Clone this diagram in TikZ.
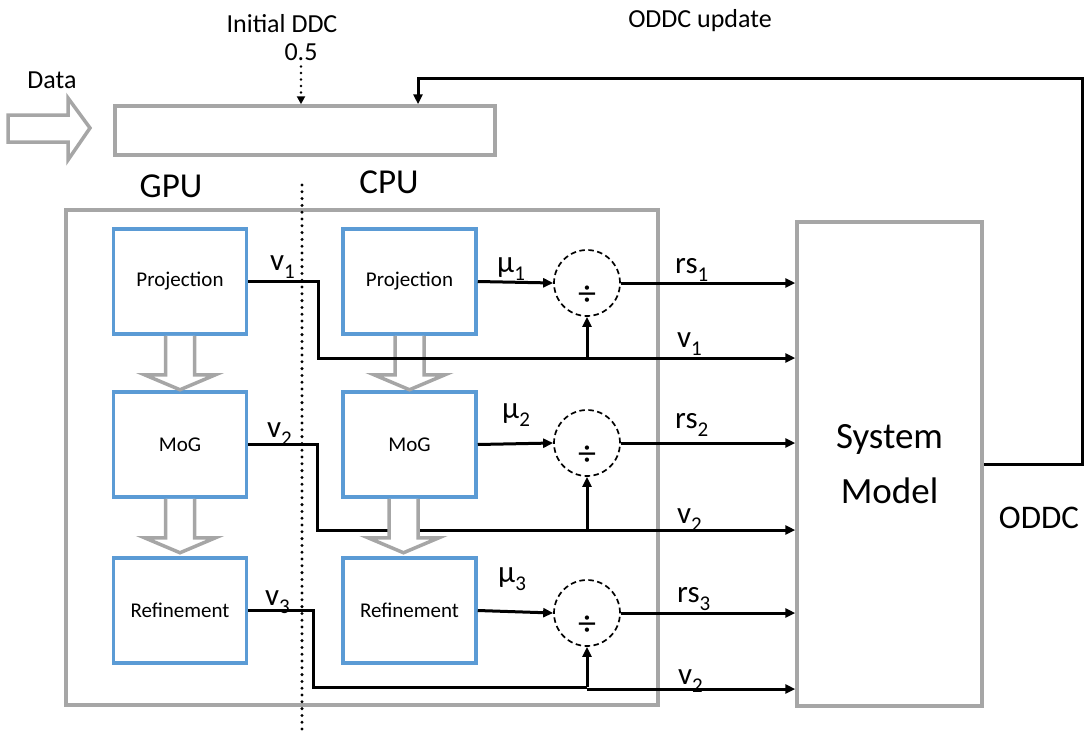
\documentclass[tikz,border=0pt]{standalone}
\usepackage{fontspec}
\setmainfont{Carlito}
\usetikzlibrary{arrows.meta,calc}
\definecolor{boxgray}{RGB}{166,166,166}
\definecolor{boxblue}{RGB}{91,155,213}
\newcommand\lsub[1]{\raisebox{-0.28em}{\fontsize{21}{21}\selectfont #1}}
\begin{document}
\begin{tikzpicture}[x=1pt,y=-1pt,
  gbox/.style={draw=boxgray, line width=3.5pt, inner sep=0pt},
  bbox/.style={draw=boxblue, line width=3.5pt, minimum width=133pt, minimum height=105pt, inner sep=0pt, font=\fontsize{21}{25}\selectfont},
  wire/.style={line width=3pt},
  conn/.style={line width=3pt, -{Triangle[length=10pt,width=9pt]}},
  divc/.style={circle, draw, dash pattern=on 5.5pt off 3.5pt, line width=1.7pt, minimum size=66pt, inner sep=0pt},
  divsign/.style={inner sep=0pt, font=\fontsize{36}{36}\selectfont},
  lbl/.style={anchor=base west, inner sep=0pt, font=\fontsize{31}{31}\selectfont},
  hollow/.style={draw=boxgray, line width=3.5pt, fill=white, line join=miter},
  dotline/.style={line width=3.3pt, dash pattern=on 0pt off 6.8pt, line cap=round},
  txt/.style={anchor=base, inner sep=0pt, font=\fontsize{26}{26}\selectfont},
  bigtxt/.style={anchor=base, inner sep=0pt, font=\fontsize{35}{35}\selectfont}
]
\useasboundingbox (0,0) rectangle (1086,731);

% texts at the top
\node[txt] (data) at (52,88) {Data};
\node[txt] (ini) at (282,32) {Initial DDC};
\node[txt] (half) at (301,60) {0.5};
\node[txt] (upd) at (700,27) {ODDC update};
\node[bigtxt] (gpu) at (171,197) {GPU};
\node[bigtxt] (cpu) at (389,193) {CPU};
\node[anchor=base, inner sep=0pt, font=\fontsize{33}{33}\selectfont] (oddc) at (1039,528) {ODDC};

% data arrow
\draw[hollow] (8,115) -- (68,115) -- (68,98) -- (90,128) -- (68,160) -- (68,142) -- (8,142) -- cycle;

% top box, outer box, system model
\node[gbox, minimum width=380pt, minimum height=49pt] (top) at (305,130.5) {};
\node[gbox, minimum width=592pt, minimum height=495pt] (outer) at (362,457.5) {};
\node[gbox, minimum width=185pt, minimum height=484pt, align=center,
      font=\fontsize{37}{55}\selectfont] (sm) at (889.5,464) {System\\Model};

% divider
\coordinate (dtop) at (302,185);
\coordinate (dbot) at (302,731);
\draw[dotline] (dtop) -- (dbot);

% initial DDC dotted arrow
\draw[line width=2.8pt, dash pattern=on 0pt off 6.5pt, line cap=round, -{Triangle[length=8pt,width=8pt]}]
  ($(half.south)+(0,6)$) -- (half.south |- top.north);

% processing boxes
\node[bbox] (g1) at (180,281.5) {Projection};
\node[bbox] (g2) at (180,444.5) {MoG};
\node[bbox] (g3) at (180,610.5) {Refinement};
\node[bbox] (p1) at (409.5,281.5) {Projection};
\node[bbox] (p2) at (409.5,444.5) {MoG};
\node[bbox] (p3) at (409.5,610.5) {Refinement};

% hollow down arrows
\draw[hollow, shift={(g1.south)}] (-14.5,0) -- (-14.5,39) -- (-35.5,39) -- (0,54) -- (35.5,39) -- (14.5,39) -- (14.5,0);
\draw[hollow, shift={(g2.south)}] (-14.5,0) -- (-14.5,39) -- (-35.5,39) -- (0,54) -- (35.5,39) -- (14.5,39) -- (14.5,0);
\draw[hollow, shift={(p1.south)}] (-14.5,0) -- (-14.5,39) -- (-35.5,39) -- (0,54) -- (35.5,39) -- (14.5,39) -- (14.5,0);

% division circles
\node[divc] (c1) at (587,283) {};
\node[divc] (c2) at (587,443) {};
\node[divc] (c3) at (587,613) {};
\node[divsign] (d1) at ($(c1.center)+(0,13)$) {÷};
\node[divsign] (d2) at ($(c2.center)+(0,13)$) {÷};
\node[divsign] (d3) at ($(c3.center)+(0,13)$) {÷};

% v wires
\coordinate (v1a) at (318,358);
\coordinate (v2a) at (317,530);
\coordinate (v3a) at (313,687);
\draw[conn] (g1.east) -| (v1a) -- (v1a -| sm.west);
\draw[conn] (v1a -| c1) -- (c1.south);
\draw[conn] (g2.east) -| (v2a) -- (v2a -| sm.west);
\draw[conn] (v2a -| c2) -- (c2.south);
\draw[wire] (g3.east) -| (v3a) -- (v3a -| c3);
\draw[conn] (v3a -| c3) -- (c3.south);
\coordinate (v3b) at ($(v3a -| c3)+(0,2)$);
\draw[conn] (v3b) -- (v3b -| sm.west);

% CPU arrow between MoG and Refinement (drawn over the v2 wire)
\draw[hollow, shift={($(p2.south)+(-6,0)$)}] (-14.5,0) -- (-14.5,39) -- (-35.5,39) -- (0,54) -- (35.5,39) -- (14.5,39) -- (14.5,0);

% mu arrows
\draw[conn] (p1.east) -- (c1.west);
\draw[conn] (p2.east) -- (c2.west);
\draw[conn] (p3.east) -- (c3.west);

% rs arrows
\draw[conn] (c1.east) -- (c1.east -| sm.west);
\draw[conn] (c2.east) -- (c2.east -| sm.west);
\draw[conn] (c3.east) -- (c3.east -| sm.west);

% feedback
\coordinate (fb) at (418,78);
\draw[conn] (sm.east) -- ++(99,0) |- (fb) -- (fb |- top.north);

% labels
\node[lbl] (lv1) at (270,270) {v\lsub{1}};
\node[lbl] (lv2) at (267,437) {v\lsub{2}};
\node[lbl] (lv3) at (265,605) {v\lsub{3}};
\node[lbl] (lm1) at (497,272) {µ\lsub{1}};
\node[lbl] (lm2) at (502,418) {µ\lsub{2}};
\node[lbl] (lm3) at (498,582) {µ\lsub{3}};
\node[lbl] (lr1) at (675,273) {rs\lsub{1}};
\node[lbl] (lr2) at (675,428) {rs\lsub{2}};
\node[lbl] (lr3) at (677,602) {rs\lsub{3}};
\node[lbl] (rv1) at (677,347) {v\lsub{1}};
\node[lbl] (rv2) at (677,523) {v\lsub{2}};
\node[lbl] (rv3) at (678,684) {v\lsub{2}};
\end{tikzpicture}
\end{document}
